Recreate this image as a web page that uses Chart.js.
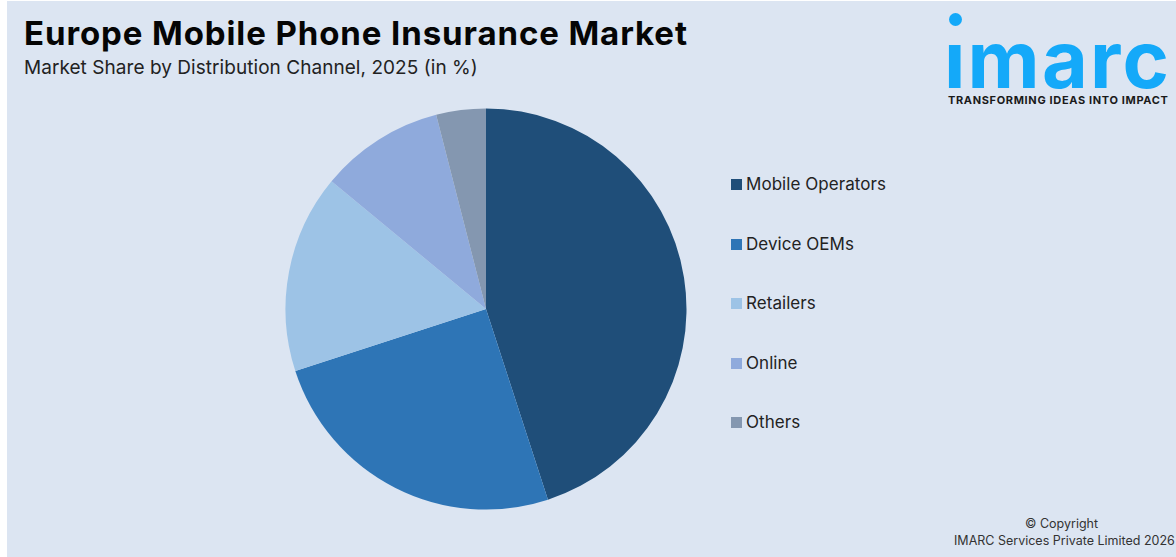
<!DOCTYPE html>
<html lang="en">
<head>
<meta charset="utf-8">
<title>Europe Mobile Phone Insurance Market</title>
<script src="https://cdn.jsdelivr.net/npm/chart.js@4"></script>
<style>
    html, body { margin: 0; padding: 0; background: #fff; }
    body { width: 1176px; height: 557px; overflow: hidden; position: relative; font-family: Inter, sans-serif; color: #111; }
    .panel { position: absolute; left: 7px; top: 1px; right: 0; bottom: 0; background: #dce5f2; }
    .abs { position: absolute; white-space: nowrap; }
    #title { left: 24px; top: 12px; font-size: 33px; line-height: 42px; font-weight: 700; letter-spacing: 0.9px; color: #050505; }
    #subtitle { left: 24px; top: 56px; font-size: 19px; line-height: 24px; font-weight: 400; letter-spacing: 0.05px; color: #222; }
    #chartBox { position: absolute; left: 276px; top: 99px; width: 420px; height: 420px; }
    .legend-swatch { position: absolute; left: 731px; width: 11px; height: 11px; }
    .legend-label { left: 746px; font-size: 17px; line-height: 22px; letter-spacing: 0.05px; color: #222; }
    #logoDot { position: absolute; left: 949px; top: 13px; width: 13px; height: 13px; border-radius: 50%; background: #14a9f9; }
    #logoText { left: 944px; top: 11px; font-size: 79px; line-height: 96px; font-weight: 700; letter-spacing: 2.2px; color: #14a9f9; }
    #logoTag { left: 948px; top: 93px; font-size: 11px; line-height: 14px; font-weight: 700; letter-spacing: 0.65px; color: #1a1a1a; }
    #copy1, #copy2 { font-size: 12.5px; line-height: 16px; color: #333; }
    #copy1 { left: 1025px; top: 516px; }
    #copy2 { left: 954px; top: 533px; }
</style>
</head>
<body>
<div class="panel"></div>
<div class="abs" id="title">Europe Mobile Phone Insurance Market</div>
<div class="abs" id="subtitle">Market Share by Distribution Channel, 2025 (in %)</div>
<div id="chartBox"><canvas id="shareChart"></canvas></div>
<div id="legendBox"></div>
<div id="logoDot"></div>
<div class="abs" id="logoText">ımarc</div>
<div class="abs" id="logoTag">TRANSFORMING IDEAS INTO IMPACT</div>
<div class="abs" id="copy1">© Copyright</div>
<div class="abs" id="copy2">IMARC Services Private Limited 2026</div>
<script>
// 数据
const channels = ['Mobile Operators', 'Device OEMs', 'Retailers', 'Online', 'Others'];
const shares = [45, 25, 16, 10, 4];
const sliceColors = ['#1f4e79', '#2e75b6', '#9dc3e6', '#8faadc', '#8497b0'];
const legendCenters = [184, 244, 303, 363, 422];

// Legend sits outside the canvas, on fixed rows
function renderLegend() {
    const box = document.getElementById('legendBox');
    channels.forEach((name, i) => {
        const swatch = document.createElement('div');
        swatch.className = 'legend-swatch';
        swatch.style.top = (legendCenters[i] - 5) + 'px';
        swatch.style.background = sliceColors[i];
        box.appendChild(swatch);

        const label = document.createElement('div');
        label.className = 'abs legend-label';
        label.style.top = (legendCenters[i] - 11) + 'px';
        label.textContent = name;
        box.appendChild(label);
    });
}

function renderPie() {
    new Chart(document.getElementById('shareChart'), {
        type: 'pie',
        data: {
            labels: channels,
            datasets: [{
                data: shares,
                backgroundColor: sliceColors,
                borderWidth: 0
            }]
        },
        options: {
            responsive: true,
            maintainAspectRatio: false,
            animation: false,
            layout: { padding: 9.5 },
            plugins: {
                legend: { display: false },
                tooltip: { enabled: false }
            }
        }
    });
}

renderLegend();
renderPie();
</script>
</body>
</html>
